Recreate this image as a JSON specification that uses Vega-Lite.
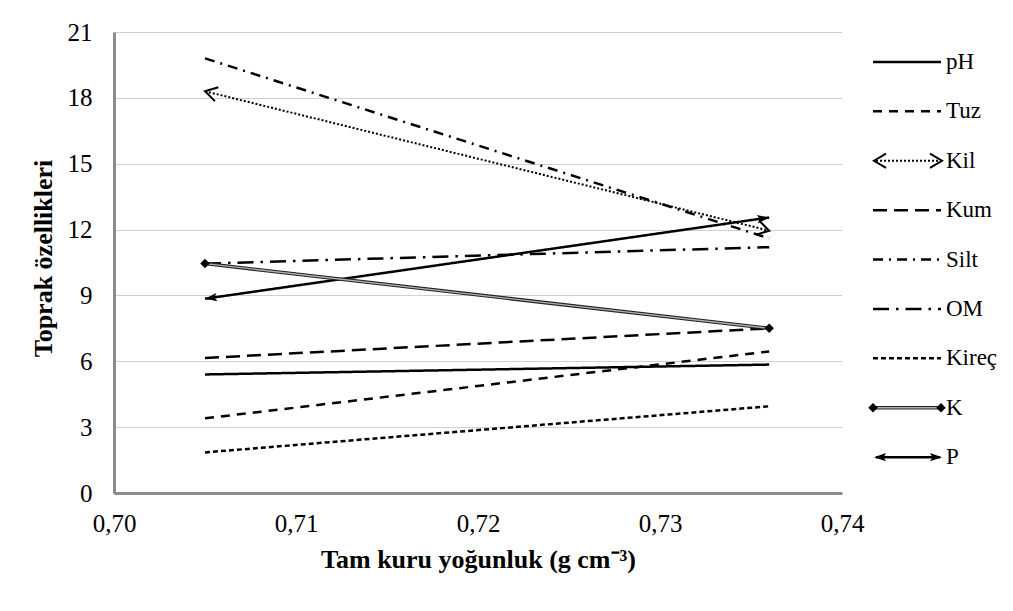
{
  "$schema": "https://vega.github.io/schema/vega-lite/v6.json",
  "background": "white",
  "padding": {"left": 30, "top": 20, "right": 5, "bottom": 5},
  "spacing": 0,
  "config": {"font": "Liberation Serif", "view": {"stroke": null}},
  "datasets": {
    "soil": [
      {"seri": "pH", "x": 0.705, "y": 5.4}, {"seri": "pH", "x": 0.736, "y": 5.85},
      {"seri": "Tuz", "x": 0.705, "y": 3.4}, {"seri": "Tuz", "x": 0.736, "y": 6.45},
      {"seri": "Kil", "x": 0.705, "y": 18.3}, {"seri": "Kil", "x": 0.736, "y": 11.95},
      {"seri": "Kum", "x": 0.705, "y": 6.15}, {"seri": "Kum", "x": 0.736, "y": 7.5},
      {"seri": "Silt", "x": 0.705, "y": 19.8}, {"seri": "Silt", "x": 0.736, "y": 11.6},
      {"seri": "OM", "x": 0.705, "y": 10.45}, {"seri": "OM", "x": 0.736, "y": 11.2},
      {"seri": "Kireç", "x": 0.705, "y": 1.85}, {"seri": "Kireç", "x": 0.736, "y": 3.95},
      {"seri": "K", "x": 0.705, "y": 10.45}, {"seri": "K", "x": 0.736, "y": 7.5},
      {"seri": "P", "x": 0.705, "y": 8.85}, {"seri": "P", "x": 0.736, "y": 12.55}
    ]
  },
  "hconcat": [
    {
      "width": 728,
      "height": 461,
      "data": {"name": "soil"},
      "encoding": {
        "x": {
          "field": "x", "type": "quantitative",
          "scale": {"domain": [0.70, 0.74], "nice": false, "zero": false},
          "axis": {
            "values": [0.70, 0.71, 0.72, 0.73, 0.74],
            "labelExpr": "replace(format(datum.value, '.2f'), '.', ',')",
            "title": "Tam kuru yoğunluk (g cm⁻³)",
            "grid": false, "ticks": false,
            "domainColor": "#8c8c8c", "domainWidth": 3,
            "labelFont": "Liberation Serif", "labelFontSize": 25, "labelColor": "black", "labelPadding": 18, "labelFlush": false,
            "titleFont": "Liberation Serif", "titleFontSize": 26, "titleFontWeight": "bold", "titleColor": "black", "titlePadding": 10
          }
        },
        "y": {
          "field": "y", "type": "quantitative",
          "scale": {"domain": [0, 21], "nice": false},
          "axis": {
            "values": [0, 3, 6, 9, 12, 15, 18, 21],
            "grid": true, "gridColor": "#a0a0a0", "gridDash": [1, 1], "gridWidth": 1,
            "ticks": false,
            "domainColor": "#8c8c8c", "domainWidth": 3,
            "labelFont": "Liberation Serif", "labelFontSize": 25, "labelColor": "black", "labelPadding": 22,
            "title": "Toprak özellikleri",
            "titleFont": "Liberation Serif", "titleFontSize": 26, "titleFontWeight": "bold", "titleColor": "black",
            "titleX": -71, "titleY": 226, "titleBaseline": "middle"
          }
        }
      },
      "layer": [
        {
          "transform": [{"filter": "datum.seri != 'K' && datum.seri != 'Kil'"}],
          "mark": {"type": "line", "color": "black", "strokeWidth": 2.5},
          "encoding": {
            "detail": {"field": "seri", "type": "nominal"},
            "strokeDash": {
              "field": "seri", "type": "nominal",
              "scale": {
                "domain": ["pH", "Tuz", "Kum", "Silt", "OM", "Kireç", "P"],
                "range": [[1, 0], [9, 7], [14, 7], [10, 6, 2, 6], [16, 7, 2.5, 7], [5, 3], [1, 0]]
              },
              "legend": null
            }
          }
        },
        {
          "transform": [{"filter": "datum.seri == 'Kil'"}],
          "mark": {"type": "line", "color": "black", "strokeWidth": 2, "strokeDash": [2, 2]},
          "encoding": {}
        },
        {
          "transform": [{"filter": "datum.seri == 'K'"}],
          "mark": {"type": "line", "color": "#222222", "strokeWidth": 3.5},
          "encoding": {}
        },
        {
          "transform": [{"filter": "datum.seri == 'K'"}],
          "mark": {"type": "line", "color": "#b0b0b0", "strokeWidth": 1.3},
          "encoding": {}
        },
        {
          "transform": [{"filter": "datum.seri == 'K'"}],
          "mark": {"type": "point", "shape": "diamond", "filled": true, "color": "black", "opacity": 1, "size": 90},
          "encoding": {}
        },
        {
          "transform": [{"filter": "datum.seri == 'P'"}],
          "mark": {"type": "point", "filled": true, "color": "black", "opacity": 1, "size": 144, "angle": -8},
          "encoding": {
            "shape": {
              "condition": {"test": "datum.x < 0.72", "value": "M0,0L2,-0.7L1.6,0L2,0.7Z"},
              "value": "M0,0L-2,-0.7L-1.6,0L-2,0.7Z"
            }
          }
        },
        {
          "transform": [{"filter": "datum.seri == 'Kil'"}],
          "mark": {"type": "point", "filled": false, "color": "black", "opacity": 1, "size": 144, "strokeWidth": 2, "angle": 14},
          "encoding": {
            "shape": {
              "condition": {"test": "datum.x < 0.72", "value": "M2,-1.2L0,0L2,1.2"},
              "value": "M-2,-1.2L0,0L-2,1.2"
            }
          }
        }
      ]
    },
    {
      "width": 140,
      "height": 461,
      "data": {"name": "soil"},
      "transform": [{"filter": "datum.x < 0.72"}],
      "encoding": {
        "y": {
          "field": "seri", "type": "nominal",
          "scale": {"type": "point", "domain": ["pH", "Tuz", "Kil", "Kum", "Silt", "OM", "Kireç", "K", "P"], "padding": 0.666, "align": 0.455},
          "axis": null
        }
      },
      "layer": [
        {
          "transform": [{"filter": "datum.seri != 'K' && datum.seri != 'Kil' && datum.seri != 'P'"}],
          "mark": {"type": "rule", "color": "black", "strokeWidth": 2.5},
          "encoding": {
            "x": {"datum": 9, "type": "quantitative", "scale": {"domain": [0, 140], "nice": false}, "axis": null},
            "x2": {"datum": 77},
            "strokeDash": {"field": "seri", "type": "nominal", "legend": null}
          }
        },
        {
          "transform": [{"filter": "datum.seri == 'P'"}],
          "mark": {"type": "rule", "color": "black", "strokeWidth": 2.5},
          "encoding": {"x": {"datum": 12, "type": "quantitative"}, "x2": {"datum": 76}}
        },
        {
          "transform": [{"filter": "datum.seri == 'Kil'"}],
          "mark": {"type": "rule", "color": "black", "strokeWidth": 2, "strokeDash": [2, 2]},
          "encoding": {"x": {"datum": 12, "type": "quantitative"}, "x2": {"datum": 76}}
        },
        {
          "transform": [{"filter": "datum.seri == 'K'"}],
          "mark": {"type": "rule", "color": "#222222", "strokeWidth": 3.5},
          "encoding": {"x": {"datum": 9, "type": "quantitative"}, "x2": {"datum": 77}}
        },
        {
          "transform": [{"filter": "datum.seri == 'K'"}],
          "mark": {"type": "rule", "color": "#b0b0b0", "strokeWidth": 1.3},
          "encoding": {"x": {"datum": 9, "type": "quantitative"}, "x2": {"datum": 77}}
        },
        {
          "transform": [{"filter": "datum.seri == 'K'"}],
          "mark": {"type": "point", "shape": "diamond", "filled": true, "color": "black", "opacity": 1, "size": 90},
          "encoding": {"x": {"datum": 9, "type": "quantitative"}}
        },
        {
          "transform": [{"filter": "datum.seri == 'K'"}],
          "mark": {"type": "point", "shape": "diamond", "filled": true, "color": "black", "opacity": 1, "size": 90},
          "encoding": {"x": {"datum": 77, "type": "quantitative"}}
        },
        {
          "transform": [{"filter": "datum.seri == 'P'"}],
          "mark": {"type": "point", "shape": "M0,0L2,-0.7L1.6,0L2,0.7Z", "filled": true, "color": "black", "opacity": 1, "size": 144},
          "encoding": {"x": {"datum": 10, "type": "quantitative"}}
        },
        {
          "transform": [{"filter": "datum.seri == 'P'"}],
          "mark": {"type": "point", "shape": "M0,0L-2,-0.7L-1.6,0L-2,0.7Z", "filled": true, "color": "black", "opacity": 1, "size": 144},
          "encoding": {"x": {"datum": 78, "type": "quantitative"}}
        },
        {
          "transform": [{"filter": "datum.seri == 'Kil'"}],
          "mark": {"type": "point", "shape": "M2,-1.2L0,0L2,1.2", "filled": false, "color": "black", "opacity": 1, "size": 144, "strokeWidth": 2},
          "encoding": {"x": {"datum": 10, "type": "quantitative"}}
        },
        {
          "transform": [{"filter": "datum.seri == 'Kil'"}],
          "mark": {"type": "point", "shape": "M-2,-1.2L0,0L-2,1.2", "filled": false, "color": "black", "opacity": 1, "size": 144, "strokeWidth": 2},
          "encoding": {"x": {"datum": 78, "type": "quantitative"}}
        },
        {
          "mark": {"type": "text", "align": "left", "baseline": "middle", "font": "Liberation Serif", "fontSize": 23, "color": "black"},
          "encoding": {"x": {"datum": 82, "type": "quantitative"}, "text": {"field": "seri", "type": "nominal"}}
        }
      ]
    }
  ]
}
